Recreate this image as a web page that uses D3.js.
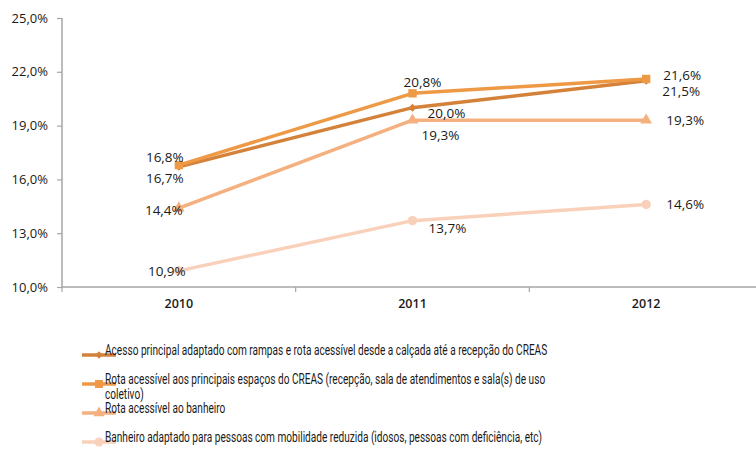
<!DOCTYPE html>
<html>
<head>
<meta charset="utf-8">
<script src="https://cdn.jsdelivr.net/npm/d3@7"></script>
<style>
  html, body { margin: 0; padding: 0; background: #fff; }
  svg { display: block; }
</style>
</head>
<body>
<svg id="chart" width="756" height="450"></svg>
<script>
// ---------- data ----------
const years = ["2010", "2011", "2012"];
const seriesNames = [
  "Acesso principal adaptado com rampas e rota acessível desde a calçada até a recepção do CREAS",
  "Rota acessível aos principais espaços do CREAS (recepção, sala de atendimentos e sala(s) de uso coletivo)",
  "Rota acessível ao banheiro",
  "Banheiro adaptado para pessoas com mobilidade reduzida (idosos, pessoas com deficiência, etc)"
];
const acessoPrincipal = [16.7, 20.0, 21.5];
const rotaEspacos = [16.8, 20.8, 21.6];
const rotaBanheiro = [14.4, 19.3, 19.3];
const banheiroAdaptado = [10.9, 13.7, 14.6];
const yTicks = [10, 13, 16, 19, 22, 25];

// ---------- styles ----------
const colors = ["#d4823a", "#ee9945", "#f5b07f", "#f9d1ba"];
const symbols = [d3.symbolDiamond2, d3.symbolSquare, d3.symbolTriangle, d3.symbolCircle];
const symbolSizes = [40, 70, 60, 70];
// label offsets (dx, dy) relative to each point
const labelOffsets = [
  [[-14, 11], [34, 6], [35, 11]],
  [[-14, -8], [10, -11], [36, -4]],
  [[-15, 2], [28, 15], [39, 0]],
  [[-12, 0], [35, 8], [39, 0]]
];

const series = [acessoPrincipal, rotaEspacos, rotaBanheiro, banheiroAdaptado].map((v, i) => ({
  name: seriesNames[i], values: v, color: colors[i], symbol: symbols[i], size: symbolSizes[i]
}));

const fmt = v => d3.format(".1f")(v).replace(".", ",") + "%";

const svg = d3.select("#chart");
const margin = { left: 62, top: 18, right: -7, bottom: 163 };
const W = 756, H = 450;

const x = d3.scalePoint().domain(years).range([margin.left, W - margin.right]).padding(0.5);
const y = d3.scaleLinear().domain([10, 25]).range([H - margin.bottom, margin.top]);

const axisColor = "#a6a6a6";
const font = "'Open Sans', 'Noto Sans', sans-serif";

// y axis
const yAxis = svg.append("g").attr("transform", `translate(${margin.left},0)`)
  .call(d3.axisLeft(y).tickValues(yTicks).tickSize(5).tickPadding(9).tickFormat(fmt));
yAxis.select(".domain").attr("stroke", axisColor).attr("stroke-width", 1.5).attr("d", `M0,${y(25)}V${y(10)}`);
yAxis.selectAll(".tick line").attr("stroke", axisColor).attr("stroke-width", 1.2);
yAxis.selectAll(".tick text").attr("font-family", font).attr("font-size", 13).attr("fill", "#1a1a1a");

// x axis
const step = x.step();
const xAxis = svg.append("g").attr("transform", `translate(0,${y(10)})`);
xAxis.append("line").attr("x1", margin.left).attr("x2", W).attr("y1", 0).attr("y2", 0)
  .attr("stroke", axisColor).attr("stroke-width", 1.5);
const boundaries = d3.range(years.length + 1).map(i => margin.left + i * step);
xAxis.selectAll("line.tk").data(boundaries).join("line").attr("class", "tk")
  .attr("x1", d => d).attr("x2", d => d).attr("y1", 0).attr("y2", 5)
  .attr("stroke", axisColor).attr("stroke-width", 1.2);
xAxis.selectAll("text").data(years).join("text")
  .attr("x", d => x(d)).attr("y", 21).attr("text-anchor", "middle")
  .attr("font-family", font).attr("font-size", 12.5).attr("font-weight", 600).attr("fill", "#1a1a1a")
  .text(d => d);

// lines (draw from back to front: lightest first)
const line = d3.line().x((d, i) => x(years[i])).y(d => y(d));
const order = [3, 2, 0, 1];
order.forEach(si => {
  const s = series[si];
  const g = svg.append("g");
  g.append("path").attr("d", line(s.values)).attr("fill", "none")
    .attr("stroke", s.color).attr("stroke-width", 3.5).attr("stroke-linejoin", "round");
  g.selectAll("path.m").data(s.values).join("path").attr("class", "m")
    .attr("transform", (d, i) => `translate(${x(years[i])},${y(d)})`)
    .attr("d", d3.symbol().type(s.symbol).size(s.size)).attr("fill", s.color);
});

// labels
series.forEach((s, si) => {
  svg.append("g").selectAll("text").data(s.values).join("text")
    .attr("x", (d, i) => x(years[i]) + labelOffsets[si][i][0])
    .attr("y", (d, i) => y(d) + labelOffsets[si][i][1])
    .attr("dy", "0.35em").attr("text-anchor", "middle")
    .attr("font-family", font).attr("font-size", 13.5).attr("fill", "#1a1a1a")
    .text(fmt);
});

// legend
const legendFont = "Roboto, 'Noto Sans', sans-serif";
const legendFontSize = 14;
const legendTextWidth = 443;   // visual width of the longest single-line entry
const legendRows = [355, 384, 413, 442];
const textX = 105;
const lg = svg.append("g");
// measure natural width of the first entry to derive horizontal squeeze
const probe = lg.append("text").attr("font-family", legendFont).attr("font-size", legendFontSize).text(seriesNames[0]);
const squeeze = legendTextWidth / probe.node().getComputedTextLength();
probe.remove();
const maxW = (legendTextWidth + 6) / squeeze;

series.forEach((s, i) => {
  const row = lg.append("g").attr("transform", `translate(0,${legendRows[i]})`);
  row.append("line").attr("x1", 82).attr("x2", 116).attr("y1", 0).attr("y2", 0)
    .attr("stroke", s.color).attr("stroke-width", 3.5);
  row.append("path").attr("transform", "translate(99,0)")
    .attr("d", d3.symbol().type(s.symbol).size(s.size * 0.9)).attr("fill", s.color);
  const t = row.append("text").attr("transform", `translate(${textX},0) scale(${squeeze},1)`)
    .attr("x", 0).attr("y", 0).attr("dy", "0.35em")
    .attr("font-family", legendFont).attr("font-size", legendFontSize).attr("fill", "#1a1a1a");
  // word wrap
  const words = s.name.split(" ");
  let lineWords = [];
  let tspan = t.append("tspan").attr("x", 0).attr("dy", 0);
  words.forEach(w => {
    lineWords.push(w);
    tspan.text(lineWords.join(" "));
    if (tspan.node().getComputedTextLength() > maxW && lineWords.length > 1) {
      lineWords.pop();
      tspan.text(lineWords.join(" "));
      lineWords = [w];
      tspan = t.append("tspan").attr("x", 0).attr("dy", 15).text(w);
    }
  });
});
</script>
</body>
</html>
